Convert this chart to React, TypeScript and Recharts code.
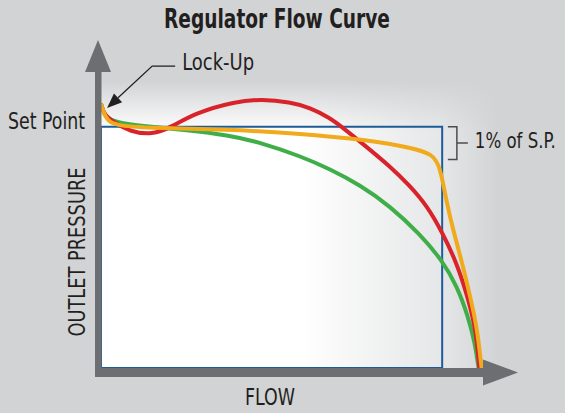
import React from 'react';
import { ComposedChart, Line, XAxis, YAxis, ReferenceLine, ReferenceArea } from 'recharts';

// flow (% of rated, 100 = full open) vs outlet pressure (% of set point)
const greenCurve: [number, number][] = [
  [0, 109.5], [0.8, 105], [2.4, 102.8], [6.3, 101.2], [12.9, 100], [22.2, 98.7], [33.5, 96.6],
  [42.5, 93.3], [52.5, 87.9], [60.4, 82.5], [68.3, 75.9], [76.2, 67.2], [84.1, 55.6],
  [89.9, 44.8], [93.9, 34], [96.8, 21.6], [98.7, 10], [99.6, 0],
];

const redCurve: [number, number][] = [
  [0, 109.5], [0.8, 105], [3.7, 101.6], [7.7, 98], [13.5, 96.6], [18.7, 100], [24.8, 105.7],
  [35.4, 110.5], [42.5, 111.5], [49.9, 110.2], [55.1, 108], [60.4, 103.7], [63.6, 99.9],
  [69.1, 92.9], [76.2, 83.7], [81.5, 75.5], [86, 67.2], [89.7, 57.2], [93.9, 43.5],
  [96.8, 29], [98.9, 15.8], [99.8, 0],
];

const orangeCurve: [number, number][] = [
  [0, 109.5], [0.8, 105.5], [1.8, 102.6], [3.7, 100.7], [11.6, 99.5], [33.5, 98.9], [51.2, 97.4],
  [71, 94.5], [82.3, 91.2], [87.3, 88.7], [89.4, 84.2], [91.3, 67.6], [92.9, 57.2],
  [95.3, 43.5], [97.4, 29.4], [99.2, 17], [100.4, 0],
];

const SET_POINT = 100;
const BOX_FLOW = 90;
const BAND_LOW = 86.5;
const yTicks = [SET_POINT];

const BG = '#d2d3d5';
const AXIS = '#6d6e71';
const INK = '#231f20';
const FONT = "'Liberation Sans Narrow', 'Arial Narrow', 'DejaVu Sans Condensed', 'Liberation Sans', sans-serif";

const toPoints = (c: [number, number][]) => c.map(([flow, pressure]) => ({ flow, pressure }));

const SetPointTick = (props: any) => (
  <text x={props.x} y={props.y + 2} textAnchor="end" fontFamily={FONT} fontSize={23} fill={INK} textLength={77} lengthAdjust="spacingAndGlyphs">
    Set Point
  </text>
);

const VerticalArrow = (props: any) => {
  const x = props.x1 - 3;
  const top = Math.min(props.y1, props.y2);
  const bottom = Math.max(props.y1, props.y2);
  return (
    <g>
      <rect x={x - 3} y={top + 30} width={6.5} height={bottom - top - 21} fill={AXIS} />
      <polygon points={`${x},${top} ${x - 13},${top + 32} ${x + 13},${top + 32}`} fill={AXIS} />
    </g>
  );
};

const HorizontalArrow = (props: any) => {
  const y = props.y1 + 4.5;
  const left = Math.min(props.x1, props.x2);
  const right = Math.max(props.x1, props.x2);
  return (
    <g>
      <rect x={left - 6} y={y - 4.5} width={right - left - 28} height={9} fill={AXIS} />
      <polygon points={`${right},${y} ${right - 35},${y - 13} ${right - 35},${y + 13}`} fill={AXIS} />
    </g>
  );
};

const Bracket = (props: any) => {
  const x = props.x1;
  const top = Math.min(props.y1, props.y2);
  const bottom = Math.max(props.y1, props.y2);
  const mid = (top + bottom) / 2;
  return (
    <g>
      <path d={`M${x},${top} H${x + 9} V${bottom} H${x} M${x + 9},${mid} H${x + 20}`} fill="none" stroke="#4d4d4f" strokeWidth={1.5} />
      <text x={x + 27} y={mid + 5} fontFamily={FONT} fontSize={21} fill={INK} textLength={81} lengthAdjust="spacingAndGlyphs">
        1% of S.P.
      </text>
    </g>
  );
};

const LockUpCallout = (props: any) => {
  const tipIsFirst = props.y1 > props.y2;
  const tx = tipIsFirst ? props.x1 : props.x2;
  const ty = tipIsFirst ? props.y1 : props.y2;
  const ex = tipIsFirst ? props.x2 : props.x1;
  const ey = tipIsFirst ? props.y2 : props.y1;
  const len = Math.hypot(ex - tx, ey - ty);
  const ux = (ex - tx) / len;
  const uy = (ey - ty) / len;
  const bx = tx + ux * 15;
  const by = ty + uy * 15;
  return (
    <g>
      <path d={`M${ex + 23},${ey} H${ex} L${bx},${by}`} fill="none" stroke={INK} strokeWidth={1.3} />
      <polygon points={`${tx},${ty} ${bx - uy * 6},${by + ux * 6} ${bx + uy * 6},${by - ux * 6}`} fill={INK} />
      <text x={ex + 30} y={ey + 4} fontFamily={FONT} fontSize={23} fill={INK} textLength={72} lengthAdjust="spacingAndGlyphs">
        Lock-Up
      </text>
    </g>
  );
};

export default function App() {
  return (
    <div style={{ position: 'absolute', left: 0, top: 0, width: 565, height: 413, background: BG }}>
      <ComposedChart width={565} height={413} margin={{ top: 40, right: 47, bottom: 45, left: 0 }}>
        <defs>
          <linearGradient id="fadeRight" x1="0" y1="0" x2="1" y2="0">
            <stop offset="0" stopColor="#ffffff" />
            <stop offset="0.5" stopColor="#ffffff" />
            <stop offset="0.85" stopColor="#e6e7e8" />
            <stop offset="1" stopColor={BG} />
          </linearGradient>
          <linearGradient id="fadeTop" x1="0" y1="0" x2="0" y2="1">
            <stop offset="0" stopColor={BG} stopOpacity={1} />
            <stop offset="1" stopColor={BG} stopOpacity={0} />
          </linearGradient>
        </defs>
        <XAxis dataKey="flow" type="number" domain={[0, 110]} hide />
        <YAxis
          type="number"
          domain={[0, 136]}
          ticks={yTicks}
          interval={0}
          width={101}
          axisLine={false}
          tickLine={false}
          tickSize={0}
          tickMargin={16}
          tick={<SetPointTick />}
        />
        <ReferenceArea x1={0} x2={105} y1={0} y2={119} fill="url(#fadeRight)" fillOpacity={1} stroke="none" />
        <ReferenceArea x1={0} x2={105} y1={98} y2={119} fill="url(#fadeTop)" fillOpacity={1} stroke="none" />
        <ReferenceArea x1={0} x2={BOX_FLOW} y1={0} y2={SET_POINT} fill="none" stroke="#1c5d99" strokeWidth={2} />
        <Line data={toPoints(greenCurve)} dataKey="pressure" type="basis" stroke="#3fae49" strokeWidth={4} dot={false} isAnimationActive={false} />
        <Line data={toPoints(redCurve)} dataKey="pressure" type="basis" stroke="#d8232a" strokeWidth={4} dot={false} isAnimationActive={false} />
        <Line data={toPoints(orangeCurve)} dataKey="pressure" type="basis" stroke="#f1aa1c" strokeWidth={4} dot={false} isAnimationActive={false} />
        <ReferenceLine segment={[{ x: 0, y: 0 }, { x: 0, y: 136 }]} ifOverflow="visible" shape={VerticalArrow} />
        <ReferenceLine segment={[{ x: 0, y: 0 }, { x: 110, y: 0 }]} ifOverflow="visible" shape={HorizontalArrow} />
        <ReferenceLine segment={[{ x: 91.5, y: SET_POINT }, { x: 91.5, y: BAND_LOW }]} ifOverflow="visible" shape={Bracket} />
        <ReferenceLine segment={[{ x: 1.6, y: 107.8 }, { x: 13.5, y: 125.2 }]} ifOverflow="visible" shape={LockUpCallout} />
        <text x={277} y={28} textAnchor="middle" fontFamily={FONT} fontWeight="bold" fontSize={26} fill={INK} textLength={226} lengthAdjust="spacingAndGlyphs">
          Regulator Flow Curve
        </text>
        <text x={270} y={405} textAnchor="middle" fontFamily={FONT} fontSize={23} fill={INK} textLength={50} lengthAdjust="spacingAndGlyphs">
          FLOW
        </text>
        <text x={85} y={252} transform="rotate(-90 85 252)" textAnchor="middle" fontFamily={FONT} fontSize={23} fill={INK} textLength={169} lengthAdjust="spacingAndGlyphs">
          OUTLET PRESSURE
        </text>
      </ComposedChart>
    </div>
  );
}
